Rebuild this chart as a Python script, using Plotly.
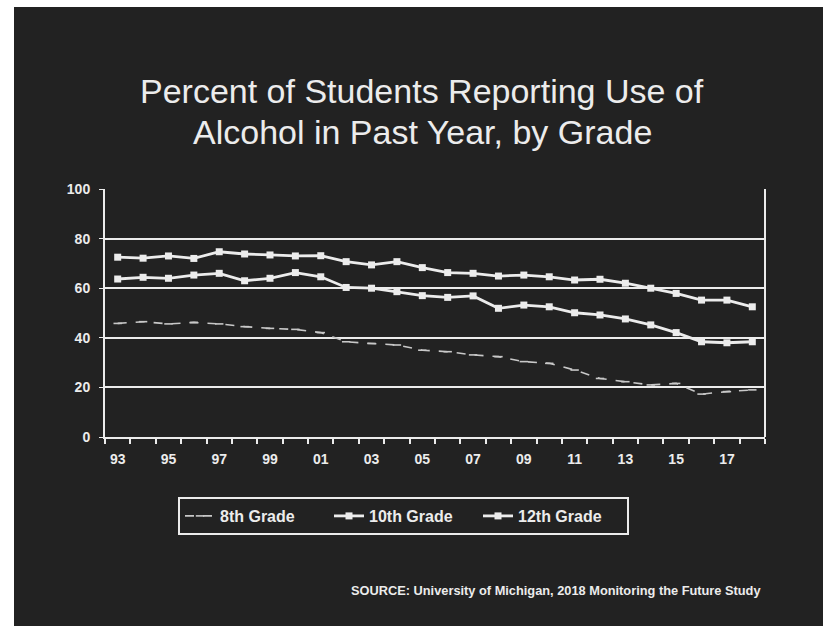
import plotly.graph_objects as go

years = list(range(1993, 2019))
tick_years = list(range(1993, 2018, 2))
tick_labels = ["93", "95", "97", "99", "01", "03", "05", "07", "09", "11", "13", "15", "17"]

grade8 = [45.8, 46.5, 45.6, 46.2, 45.6, 44.5, 43.8, 43.4, 42.1, 38.4, 37.7, 37.1, 35.0,
          34.4, 33.1, 32.4, 30.4, 29.7, 27.0, 23.6, 22.3, 21.0, 21.6, 17.3, 18.3, 19.0]
grade10 = [63.7, 64.4, 64.0, 65.3, 66.0, 63.0, 64.0, 66.3, 64.6, 60.3, 60.0, 58.6, 57.0,
           56.3, 56.9, 51.9, 53.2, 52.5, 50.1, 49.2, 47.6, 45.2, 42.1, 38.4, 38.0, 38.4]
grade12 = [72.5, 72.1, 73.0, 72.0, 74.7, 73.8, 73.4, 73.0, 73.1, 70.7, 69.4, 70.7, 68.3,
           66.3, 66.0, 64.9, 65.3, 64.6, 63.3, 63.6, 62.0, 60.0, 57.9, 55.2, 55.2, 52.5]

y_ticks = [0, 20, 40, 60, 80, 100]

title_lines = ["Percent of Students Reporting Use of", "Alcohol in Past Year, by Grade"]
source_text = "SOURCE: University of Michigan, 2018 Monitoring the Future Study"

BG = "#222222"
FG = "#ececec"
FONT = "Liberation Sans, Arial, sans-serif"

# plot area in pixels: x 105..765, y 189..437
L, R, T, B = 105, 765, 189, 437


def px(xp):
    return (xp - L) / (R - L)


def py(yp):
    return (B - yp) / (B - T)


fig = go.Figure()

fig.add_trace(go.Scatter(
    x=years, y=grade8, name="8th Grade", mode="lines+markers",
    line=dict(color="#c8c8c8", width=1.6, dash="dash"),
    marker=dict(symbol="line-ew", size=6, line=dict(color="#c8c8c8", width=1.6)),
))
fig.add_trace(go.Scatter(
    x=years, y=grade10, name="10th Grade", mode="lines+markers",
    line=dict(color=FG, width=2.8),
    marker=dict(symbol="square", size=7, color=FG),
))
fig.add_trace(go.Scatter(
    x=years, y=grade12, name="12th Grade", mode="lines+markers",
    line=dict(color=FG, width=2.8),
    marker=dict(symbol="square", size=7, color=FG),
))

annotations = [
    dict(text=title_lines[0], x=px(422), y=py(91)),
    dict(text=title_lines[1], x=px(422), y=py(132)),
]
for a in annotations:
    a.update(xref="paper", yref="paper", xanchor="center", yanchor="middle",
             showarrow=False, font=dict(size=34, color=FG, family=FONT))
annotations.append(dict(
    text=source_text, xref="paper", yref="paper", x=px(763), y=py(590),
    xanchor="right", yanchor="middle", showarrow=False,
    font=dict(size=12.8, color=FG, family=FONT, weight="bold"),
))

fig.update_layout(
    width=823, height=626,
    margin=dict(l=L, r=823 - R, t=T, b=626 - B),
    paper_bgcolor="white",
    plot_bgcolor=BG,
    font=dict(family=FONT, color=FG),
    showlegend=True,
    legend=dict(
        orientation="h", x=px(178), xanchor="left", y=py(497), yanchor="top",
        bgcolor=BG, bordercolor=FG, borderwidth=2,
        font=dict(size=16, color=FG, family=FONT, weight="bold"),
        entrywidth=104, itemwidth=30,
    ),
    annotations=annotations,
    shapes=[
        dict(type="rect", xref="paper", yref="paper", layer="below",
             x0=px(14), x1=px(823), y0=py(626), y1=py(7),
             fillcolor=BG, line=dict(width=0)),
        # right edge of the frame
        dict(type="line", xref="paper", yref="paper", x0=1, x1=1, y0=0, y1=1,
             line=dict(color=FG, width=2)),
    ],
)

fig.update_xaxes(
    range=[1992.5, 2018.5], tickvals=tick_years, ticktext=tick_labels,
    ticks="outside", ticklen=0, showgrid=False, zeroline=False,
    showline=True, linecolor=FG, linewidth=2,
    ticklabelstandoff=8,
    tickfont=dict(size=14, color=FG, weight="bold"),
    minor=dict(tick0=1992.5, dtick=1, ticks="outside", ticklen=5, tickcolor=FG,
               tickwidth=1.5, showgrid=False),
)
fig.update_yaxes(
    range=[0, 100], tickvals=y_ticks, ticks="outside", ticklen=4, tickcolor=FG,
    showgrid=True, gridcolor=FG, gridwidth=2, zeroline=False,
    showline=True, linecolor=FG, linewidth=2,
    ticklabelstandoff=6,
    tickfont=dict(size=14, color=FG, weight="bold"),
)

fig.write_html("out.html")
